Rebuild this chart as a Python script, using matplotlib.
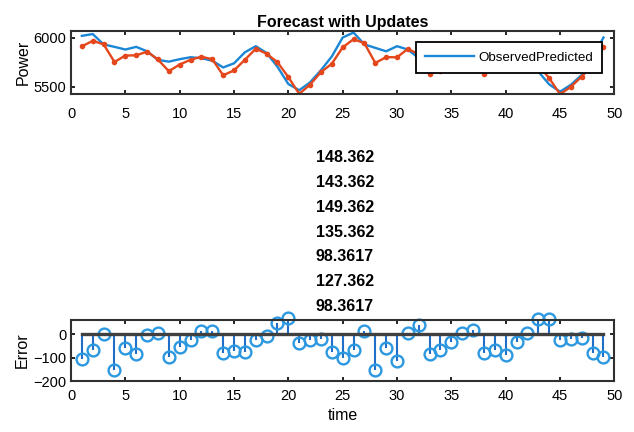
import numpy as np
import matplotlib
matplotlib.use("Agg")
import matplotlib.pyplot as plt

plt.rcParams['font.family'] = ['Liberation Sans', 'DejaVu Sans']

# time steps 1..49
t = list(range(1, 50))

# observed power (blue line)
observed = [6017, 6035, 5930, 5905, 5878, 5905, 5860, 5773, 5755, 5780,
            5800, 5790, 5765, 5696, 5738, 5850, 5912, 5843, 5703, 5528,
            5465, 5545, 5668, 5808, 6000, 6050, 5930, 5895, 5860, 5912,
            5878, 5790, 5718, 5730, 5760, 5790, 5800, 5712, 5760, 5850,
            5940, 5850, 5655, 5525, 5450, 5520, 5620, 5800, 6000]

# predicted power (red line with dots)
predicted = [5910, 5966, 5931, 5752, 5817, 5819, 5857, 5777, 5658, 5726,
             5774, 5805, 5780, 5617, 5666, 5774, 5886, 5836, 5749, 5598,
             5428, 5522, 5648, 5734, 5900, 5983, 5942, 5742, 5801, 5799,
             5885, 5830, 5633, 5663, 5725, 5797, 5819, 5633, 5693, 5761,
             5905, 5854, 5719, 5589, 5424, 5500, 5604, 5721, 5904]

# forecast error (stems)
error = [-107, -69, 1, -153, -61, -86, -3, 4, -97, -54,
         -26, 15, 15, -79, -72, -76, -26, -7, 46, 70,
         -37, -23, -20, -74, -100, -67, 12, -153, -59, -113,
         7, 40, -85, -67, -35, 7, 19, -79, -67, -89,
         -35, 4, 64, 64, -26, -20, -16, -79, -96]

# stacked title texts over the error plot
stack_labels = ["148.362", "143.362", "149.362", "135.362",
                "98.3617", "127.362", "98.3617"]

blue = '#1a86d6'
red = '#e4471c'

fig = plt.figure(figsize=(6.34, 4.32), dpi=100)

def style_axes(ax, xpad):
    ax.tick_params(direction='in', top=True, right=True, labelsize=10.5,
                   length=3, width=1.2)
    ax.tick_params(axis='x', pad=xpad)
    for s in ax.spines.values():
        s.set_linewidth(1.5)
        s.set_color('#303030')

# top panel: forecast
ax1 = fig.add_axes([0.112, 0.782, 0.857, 0.146])
ax1.plot(t, observed, color=blue, lw=1.7, label='ObservedPredicted')
ax1.plot(t, predicted, color=red, lw=1.7, marker='.', ms=6)
ax1.set_xlim(0, 50)
ax1.set_ylim(5425, 6065)
ax1.set_yticks([5500, 6000])
ax1.set_xticks(range(0, 51, 5))
ax1.set_ylabel('Power', fontsize=11.5, labelpad=2)
ax1.set_title('Forecast with Updates', fontsize=11.5, fontweight='bold', pad=3)
style_axes(ax1, 9)
leg = ax1.legend(loc='upper right', bbox_to_anchor=(0.978, 0.82),
                 fontsize=9.6, handlelength=3.7, fancybox=False,
                 framealpha=1, borderpad=0.7, handletextpad=0.3,
                 borderaxespad=0)
leg.get_frame().set_edgecolor('black')
leg.get_frame().set_linewidth(1.3)

# bottom panel: error stems
ax2 = fig.add_axes([0.112, 0.118, 0.857, 0.141])
ml, sl, bl = ax2.stem(t, error, linefmt='-', basefmt='-')
plt.setp(sl, color='#1f6fc8', lw=1.5)
plt.setp(ml, marker='o', ms=8.5, markerfacecolor='none',
         markeredgecolor='#2b98e0', markeredgewidth=1.7, clip_on=False)
plt.setp(bl, color='#404040', lw=2.4)
ax2.set_xlim(0, 50)
ax2.set_ylim(-200, 60)
ax2.set_yticks([-200, -100, 0])
ax2.set_xticks(range(0, 51, 5))
ax2.set_ylabel('Error', fontsize=11.5, labelpad=2)
ax2.set_xlabel('time', fontsize=11.5, labelpad=3)
style_axes(ax2, 6)

for i, s in enumerate(stack_labels):
    fig.text(0.544, 1 - (158 + i * 24.7) / 432, s, ha='center', va='center',
             fontsize=11.5, fontweight='bold')

fig.savefig('out.png', dpi=100)
